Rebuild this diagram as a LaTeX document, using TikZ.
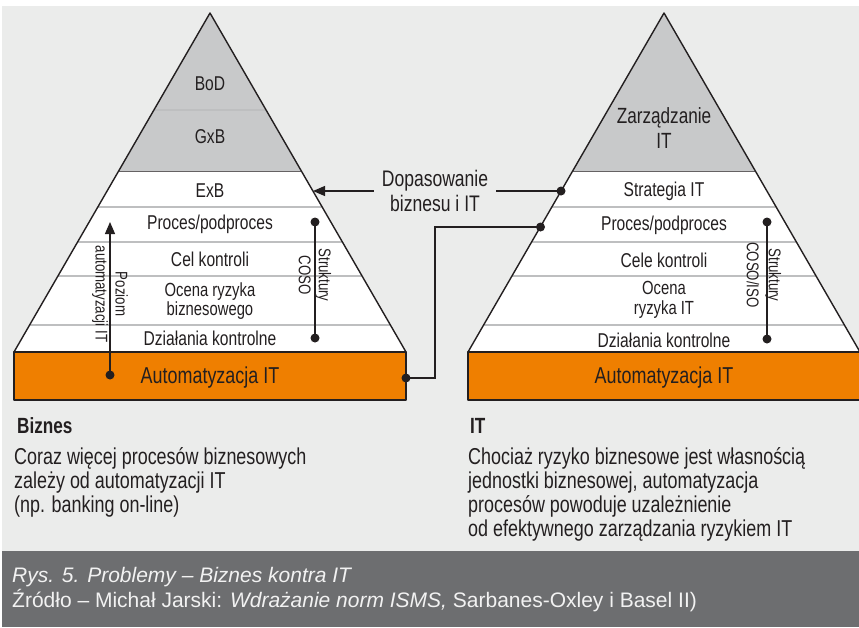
\documentclass[tikz,border=0pt]{standalone}
\usepackage{fontspec}
\setmainfont{Liberation Sans}[FakeStretch=0.78]
\newfontfamily\capfont{Liberation Sans}
\usetikzlibrary{arrows.meta}

\definecolor{bggray}{HTML}{EBECEB}
\definecolor{topgray}{HTML}{C8C9CA}
\definecolor{autoorange}{HTML}{EF7F00}
\definecolor{capgray}{HTML}{6D6E70}
\definecolor{ink}{HTML}{231F20}
\definecolor{sepgray}{HTML}{BEBFC0}

\tikzset{
  layer/.style={text=ink, align=center, inner sep=0pt, font=\fontsize{20}{20}\selectfont},
  twoline/.style={layer, font=\fontsize{19}{19.5}\selectfont},
  bigtxt/.style={text=ink, align=center, inner sep=0pt, font=\fontsize{23}{25}\selectfont},
  vtxt/.style={text=ink, align=center, inner sep=0pt, rotate=-90},
  note/.style={text=ink, align=left, anchor=west, inner sep=0pt, font=\fontsize{23}{24}\selectfont},
  captxt/.style={text=white!95!black, anchor=west, inner sep=0pt, font=\capfont\fontsize{21}{22}\selectfont},
  dot/.style={circle, fill=ink, inner sep=0pt, minimum size=9pt},
  conn/.style={ink, line width=1.3pt},
  outline/.style={ink, line width=1.4pt, line join=round}
}

\begin{document}
\begin{tikzpicture}[x=1pt,y=-1pt]
  \useasboundingbox (0,0) rectangle (859,627);
  \fill[bggray] (2,6) rectangle (859,551);
  \fill[capgray] (2,551) rectangle (859,627);

  % pyramid: biznes
  \begin{scope}
    \clip (210,13) -- (14,352) -- (406,352) -- cycle;
    \fill[white] (0,0) rectangle (430,352);
    \fill[topgray] (0,0) rectangle (430,171);
    \foreach \y in {110,207,242,276,325}
      \draw[sepgray, line width=1.2pt] (0,\y) -- (430,\y);
    \draw[ink!70, line width=0.8pt] (0,171) -- (430,171);
  \end{scope}
  \draw[outline] (210,13) -- (14,352) -- (406,352) -- cycle;
  \draw[outline, fill=autoorange] (14,352) rectangle (406,400);

  % pyramid: IT
  \begin{scope}
    \clip (664,13) -- (468,352) -- (860,352) -- cycle;
    \fill[white] (440,0) rectangle (870,352);
    \fill[topgray] (440,0) rectangle (870,171);
    \foreach \y in {207,242,276,325}
      \draw[sepgray, line width=1.2pt] (440,\y) -- (870,\y);
    \draw[ink!70, line width=0.8pt] (440,171) -- (870,171);
  \end{scope}
  \draw[outline] (664,13) -- (468,352) -- (860,352) -- cycle;
  \draw[outline, fill=autoorange] (468,352) rectangle (864,400);

  % labels: biznes
  \node[layer] (bod) at (210,84) {BoD};
  \node[layer] (gxb) at (210,137) {GxB};
  \node[layer] (exb) at (210,191) {ExB};
  \node[layer] (procL) at (210,224) {Proces/podproces};
  \node[layer] (celL) at (210,259) {Cel kontroli};
  \node[twoline] (ocenaL) at (210,301) {Ocena ryzyka\\biznesowego};
  \node[layer] (dzialL) at (210,338) {Działania kontrolne};
  \node[bigtxt] (autoL) at (210,378) {Automatyzacja IT};

  % labels: IT
  \node[bigtxt, font=\fontsize{22}{25}\selectfont] (zarz) at (664,128) {Zarządzanie\\IT};
  \node[layer] (strat) at (664,191) {Strategia IT};
  \node[layer] (procR) at (664,225) {Proces/podproces};
  \node[layer] (celR) at (664,260) {Cele kontroli};
  \node[twoline] (ocenaR) at (664,300) {Ocena\\ryzyka IT};
  \node[layer] (dzialR) at (664,340) {Działania kontrolne};
  \node[bigtxt] (autoR) at (664,378) {Automatyzacja IT};

  % poziom automatyzacji
  \node[dot] (pozDot) at (110,375) {};
  \coordinate (pozTop) at (110,222);
  \draw[conn, -{Triangle[length=12pt,width=10pt]}] (pozDot.center) -- (pozTop);
  \node[vtxt, font=\fontsize{17}{20}\selectfont] (poziom) at (110,294) {Poziom\\automatyzacji IT};

  % struktury
  \node[dot] (cosoTop) at (315,222) {};
  \node[dot] (cosoBot) at (315,338) {};
  \draw[conn] (cosoTop.center) -- (cosoBot.center);
  \node[vtxt, font=\fontsize{17}{20}\selectfont] (coso) at (315,275) {Struktury\\COSO};

  \node[dot] (isoTop) at (767,222) {};
  \node[dot] (isoBot) at (767,339) {};
  \draw[conn] (isoTop.center) -- (isoBot.center);
  \node[vtxt, font=\fontsize{17}{22}\selectfont] (iso) at (764,275) {Struktury\\COSO/ISO};

  % dopasowanie
  \node[text=ink, align=center, inner xsep=8pt, font=\fontsize{22.5}{25}\selectfont] (dop) at (435,191) {Dopasowanie\\biznesu i IT};
  \coordinate (edgeL) at (313,191);
  \node[dot] (stratDot) at (561,191) {};
  \draw[conn, -{Triangle[length=12pt,width=10pt]}] (dop.west) -- (edgeL);
  \draw[conn] (dop.east) -- (stratDot.center);

  \node[dot] (autoDot) at (406,378) {};
  \node[dot] (procDot) at (540.5,227) {};
  \draw[conn] (autoDot.center) -- ++(29,0) |- (procDot.center);

  % opisy
  \node[note, font=\bfseries\fontsize{22}{24}\selectfont] (biz) at (17,426) {Biznes};
  \node[note] (bizTxt) at (14,482) {Coraz więcej procesów biznesowych\\zależy od automatyzacji IT\\(np. banking on-line)};
  \node[note, font=\bfseries\fontsize{22}{24}\selectfont] (it) at (470,426) {IT};
  \node[note] (itTxt) at (468,494) {Chociaż ryzyko biznesowe jest własnością\\jednostki biznesowej, automatyzacja\\procesów powoduje uzależnienie\\od efektywnego zarządzania ryzykiem IT};

  % podpis
  \node[captxt] (rys) at (12,577) {\itshape Rys. 5. Problemy – Biznes kontra IT};
  \node[captxt] (zrodlo) at (12,601) {Źródło – Michał Jarski: \textit{Wdrażanie norm ISMS,} Sarbanes-Oxley i Basel II)};
\end{tikzpicture}
\end{document}
